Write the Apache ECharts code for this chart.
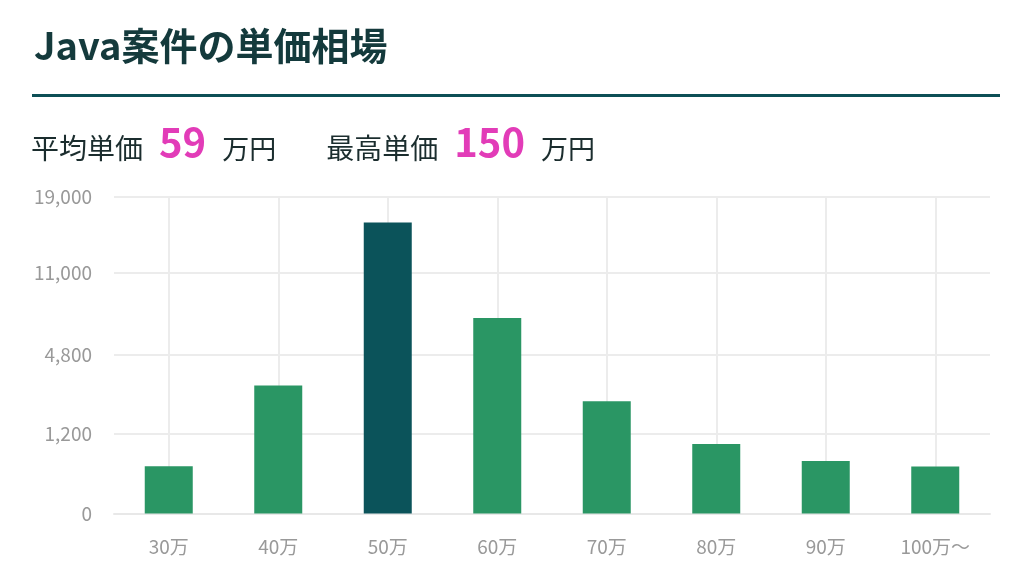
<!DOCTYPE html>
<html><head><meta charset="utf-8">
<script src="https://cdn.jsdelivr.net/npm/echarts@6/dist/echarts.min.js"></script>
<style>html,body{margin:0;padding:0;background:#fff}#c{width:1020px;height:582px}</style>
</head><body><div id="c"></div>
<script>
const categories = ['30万','40万','50万','60万','70万','80万','90万','100万〜'];
const counts = [425, 3110, 16050, 7256, 2385, 918, 525, 420];
const yTicks = [0, 1200, 4800, 11000, 19000];
const titleText = 'Java案件の単価相場';
const avgPrice = 59;
const maxPrice = 150;

const font = '"Noto Sans CJK JP", "Noto Sans", sans-serif';
const maxIdx = counts.indexOf(Math.max(...counts));
const chart = echarts.init(document.getElementById('c'));
chart.setOption({
  animation: false,
  textStyle: { fontFamily: font },
  title: {
    text: titleText, left: 29, top: 22,
    textStyle: { fontFamily: font, fontSize: 38, fontWeight: 'bold', color: '#143a3c' }
  },
  graphic: [
    { type: 'rect', shape: { x: 32, y: 94, width: 968, height: 3 }, style: { fill: '#0d4f56' } },
    { type: 'text', left: 31, top: 122, style: {
        text: '{l|平均単価}{n|' + avgPrice + '}{u|万円}{g|}{l|最高単価}{n|' + maxPrice + '}{u|万円}',
        rich: {
          l: { fontFamily: font, fontSize: 28, fill: '#1b2d2e', verticalAlign: 'bottom', lineHeight: 48 },
          n: { fontFamily: font, fontSize: 40, fontWeight: 'bold', fill: '#e23cb8', padding: [0, 16, 0, 16], verticalAlign: 'bottom', lineHeight: 48 },
          u: { fontFamily: font, fontSize: 27, fill: '#1b2d2e', verticalAlign: 'bottom', lineHeight: 48 },
          g: { width: 50 }
        }
    } }
  ],
  grid: { left: 114, right: 30, top: 197, bottom: 68.5 },
  xAxis: {
    type: 'category', data: categories,
    axisLine: { show: true, lineStyle: { color: '#e8e8e8', width: 2 } },
    axisTick: { show: false },
    axisLabel: { color: '#999', fontSize: 19, margin: 24, fontFamily: font },
    splitLine: { show: true, alignWithLabel: true, lineStyle: { color: '#ececec', width: 2 } }
  },
  yAxis: {
    type: 'value', min: 0, max: Math.sqrt(yTicks[yTicks.length - 1]),
    axisLine: { show: false },
    axisTick: { show: false, customValues: yTicks.map(Math.sqrt) },
    axisLabel: {
      customValues: yTicks.map(Math.sqrt),
      color: '#999', fontSize: 19, margin: 22, fontFamily: font,
      formatter: v => Math.round(v * v).toLocaleString('en-US')
    },
    splitLine: { show: true, lineStyle: { color: '#ececec', width: 2 } }
  },
  series: [{
    type: 'bar', barWidth: 48,
    data: counts.map((v, i) => ({
      value: Math.sqrt(v),
      itemStyle: { color: i === maxIdx ? '#0b535a' : '#2a9664' }
    }))
  }]
});
</script></body></html>
